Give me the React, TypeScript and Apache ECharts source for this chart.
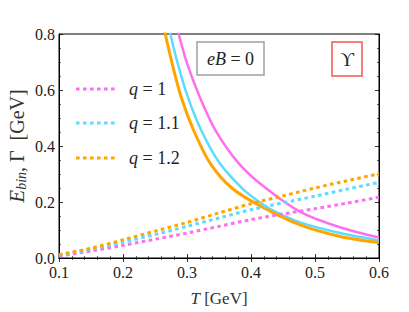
import React, { useEffect, useRef } from "react";
import * as echarts from "echarts";

const FONT = "'Liberation Serif', 'Times New Roman', serif";

// Binding energy (solid curves)
const tBinQ1 = [0.28, 0.2869, 0.3, 0.3196, 0.344, 0.3805, 0.42, 0.4768, 0.539, 0.6];
const eBinQ1 = [0.86, 0.8, 0.696, 0.577, 0.458, 0.339, 0.255, 0.165, 0.11, 0.073];
const tBinQ11 = [0.268, 0.274, 0.2853, 0.301, 0.3218, 0.3509, 0.3883, 0.4143, 0.43, 0.4768, 0.539, 0.6];
const eBinQ11 = [0.865, 0.8, 0.696, 0.577, 0.458, 0.339, 0.244, 0.198, 0.175, 0.127, 0.089, 0.063];
const tBinQ12 = [0.26, 0.2661, 0.2766, 0.2906, 0.31, 0.336, 0.37, 0.4143, 0.4768, 0.539, 0.6];
const eBinQ12 = [0.87, 0.8, 0.696, 0.577, 0.458, 0.339, 0.25, 0.186, 0.118, 0.077, 0.055];

// Thermal width (dotted lines)
const tGamma = [0.1, 0.15, 0.2, 0.25, 0.3, 0.35, 0.4, 0.45, 0.5, 0.55, 0.6];
const gammaQ1 = [0.007, 0.025, 0.045, 0.067, 0.089, 0.113, 0.137, 0.157, 0.176, 0.196, 0.217];
const gammaQ11 = [0.01, 0.031, 0.056, 0.084, 0.113, 0.143, 0.1725, 0.197, 0.221, 0.246, 0.27];
const gammaQ12 = [0.012, 0.035, 0.065, 0.096, 0.127, 0.161, 0.194, 0.222, 0.25, 0.276, 0.301];

const legendLabels = ["q = 1", "q = 1.1", "q = 1.2"];
const qValues = ["1", "1.1", "1.2"];
const colors = ["#FF6EF0", "#5CDCFF", "#FFA500"];

const xTicks = [0.1, 0.2, 0.3, 0.4, 0.5, 0.6];
const yTicks = [0.0, 0.2, 0.4, 0.6, 0.8];

const zip = (t: number[], v: number[]) => t.map((x, i) => [x, v[i]]);

export default function App() {
  const ref = useRef<HTMLDivElement>(null);
  useEffect(() => {
    if (!ref.current) return;
    const chart = echarts.init(ref.current, undefined, { renderer: "svg" });

    const binSets = [zip(tBinQ1, eBinQ1), zip(tBinQ11, eBinQ11), zip(tBinQ12, eBinQ12)];
    const gammaSets = [zip(tGamma, gammaQ1), zip(tGamma, gammaQ11), zip(tGamma, gammaQ12)];

    const axisCommonX = {
      type: "value" as const,
      min: xTicks[0],
      max: xTicks[xTicks.length - 1],
      interval: 0.1,
      splitLine: { show: false },
      axisLine: { show: true, lineStyle: { color: "#000", width: 1 } },
      axisTick: { show: true, inside: true, length: 4, lineStyle: { color: "#000", width: 0.8 } },
      minorTick: { show: true, splitNumber: 5, length: 2, lineStyle: { color: "#000", width: 0.6 } },
    };
    const axisCommonY = {
      type: "value" as const,
      min: yTicks[0],
      max: yTicks[yTicks.length - 1],
      interval: 0.2,
      splitLine: { show: false },
      axisLine: { show: true, lineStyle: { color: "#000", width: 1 } },
      axisTick: { show: true, inside: true, length: 4, lineStyle: { color: "#000", width: 0.8 } },
      minorTick: { show: true, splitNumber: 4, length: 2, lineStyle: { color: "#000", width: 0.6 } },
    };

    const labelStyle = { fontFamily: FONT, fontSize: 16, color: "#222" };

    const series: any[] = [];
    binSets.forEach((d, i) => {
      series.push({
        type: "line",
        name: "Ebin q=" + qValues[i],
        data: d,
        smooth: 0.3,
        showSymbol: false,
        symbol: "none",
        clip: true,
        lineStyle: { color: colors[i], width: i === 2 ? 3 : 2.5 },
        z: 2,
      });
    });
    gammaSets.forEach((d, i) => {
      series.push({
        type: "line",
        name: legendLabels[i],
        data: d,
        smooth: 0.3,
        showSymbol: false,
        symbol: "none",
        clip: true,
        lineStyle: { color: colors[i], width: 3, type: [3.6, 3.4] },
        z: 3,
      });
    });

    const legendY = [89, 123, 158];
    const graphics: any[] = [];
    legendY.forEach((y, i) => {
      graphics.push({
        type: "line",
        shape: { x1: 76, y1: y, x2: 117, y2: y },
        style: { stroke: colors[i], lineWidth: 3, lineDash: [3.6, 3.4] },
        z: 10,
      });
      graphics.push({
        type: "text",
        x: 129,
        y: y,
        style: {
          text: "{i|q} = " + qValues[i],
          fontFamily: FONT,
          fontSize: 18,
          fill: "#222",
          verticalAlign: "middle",
          align: "left",
          rich: {
            i: { fontFamily: FONT, fontSize: 18, fontStyle: "italic", fill: "#222" },
          },
        },
        z: 10,
      });
    });
    // eB = 0 box
    graphics.push({
      type: "rect",
      shape: { x: 197, y: 42, width: 67, height: 33 },
      style: { fill: "#fff", stroke: "#a0a0a0", lineWidth: 1.5 },
      z: 10,
    });
    graphics.push({
      type: "text",
      x: 230.5,
      y: 59,
      style: {
        text: "{i|eB} = 0",
        fontFamily: FONT,
        fontSize: 18,
        fill: "#222",
        align: "center",
        verticalAlign: "middle",
        rich: { i: { fontFamily: FONT, fontSize: 18, fontStyle: "italic", fill: "#222" } },
      },
      z: 11,
    });
    // Upsilon box
    graphics.push({
      type: "rect",
      shape: { x: 332, y: 42, width: 30, height: 34 },
      style: { fill: "#fff", stroke: "#f25555", lineWidth: 1.5 },
      z: 10,
    });
    graphics.push({
      type: "text",
      x: 347,
      y: 59,
      style: {
        text: "\u03D2",
        fontFamily: FONT,
        fontSize: 19,
        fill: "#222",
        align: "center",
        verticalAlign: "middle",
      },
      z: 11,
    });
    // x-axis title
    graphics.push({
      type: "text",
      x: 219,
      y: 298,
      style: {
        text: "{i|T} [GeV]",
        fontFamily: FONT,
        fontSize: 17,
        fill: "#333",
        align: "center",
        verticalAlign: "middle",
        rich: { i: { fontFamily: FONT, fontSize: 17, fontStyle: "italic", fill: "#333" } },
      },
    });
    // y-axis title
    graphics.push({
      type: "text",
      x: 17,
      y: 146,
      rotation: Math.PI / 2,
      style: {
        text: "{e|E}{s|bin}, \u0393  [GeV]",
        fontFamily: FONT,
        fontSize: 20,
        fill: "#333",
        align: "center",
        verticalAlign: "middle",
        rich: {
          e: { fontFamily: FONT, fontSize: 21, fontStyle: "italic", fill: "#333" },
          s: { fontFamily: FONT, fontSize: 14, fontStyle: "italic", fill: "#333", padding: [9, 0, 0, 0] },
        },
      },
    });

    chart.setOption({
      animation: false,
      backgroundColor: "#fff",
      textStyle: { fontFamily: FONT },
      grid: { left: 59, top: 34, width: 320, height: 224, show: true, borderColor: "#000", borderWidth: 1, backgroundColor: "transparent" },
      xAxis: [
        {
          ...axisCommonX,
          position: "bottom",
          axisLabel: { ...labelStyle, margin: 6, formatter: (v: number) => v.toFixed(1) },
        },
        { ...axisCommonX, position: "top", axisLabel: { show: false } },
      ],
      yAxis: [
        {
          ...axisCommonY,
          position: "left",
          axisLabel: { ...labelStyle, margin: 4, formatter: (v: number) => v.toFixed(1) },
        },
        { ...axisCommonY, position: "right", axisLabel: { show: false } },
      ],
      series,
      graphic: graphics,
    });
    return () => chart.dispose();
  }, []);
  return (
    <div
      ref={ref}
      style={{ position: "absolute", left: 0, top: 0, width: 409, height: 312 }}
    />
  );
}
